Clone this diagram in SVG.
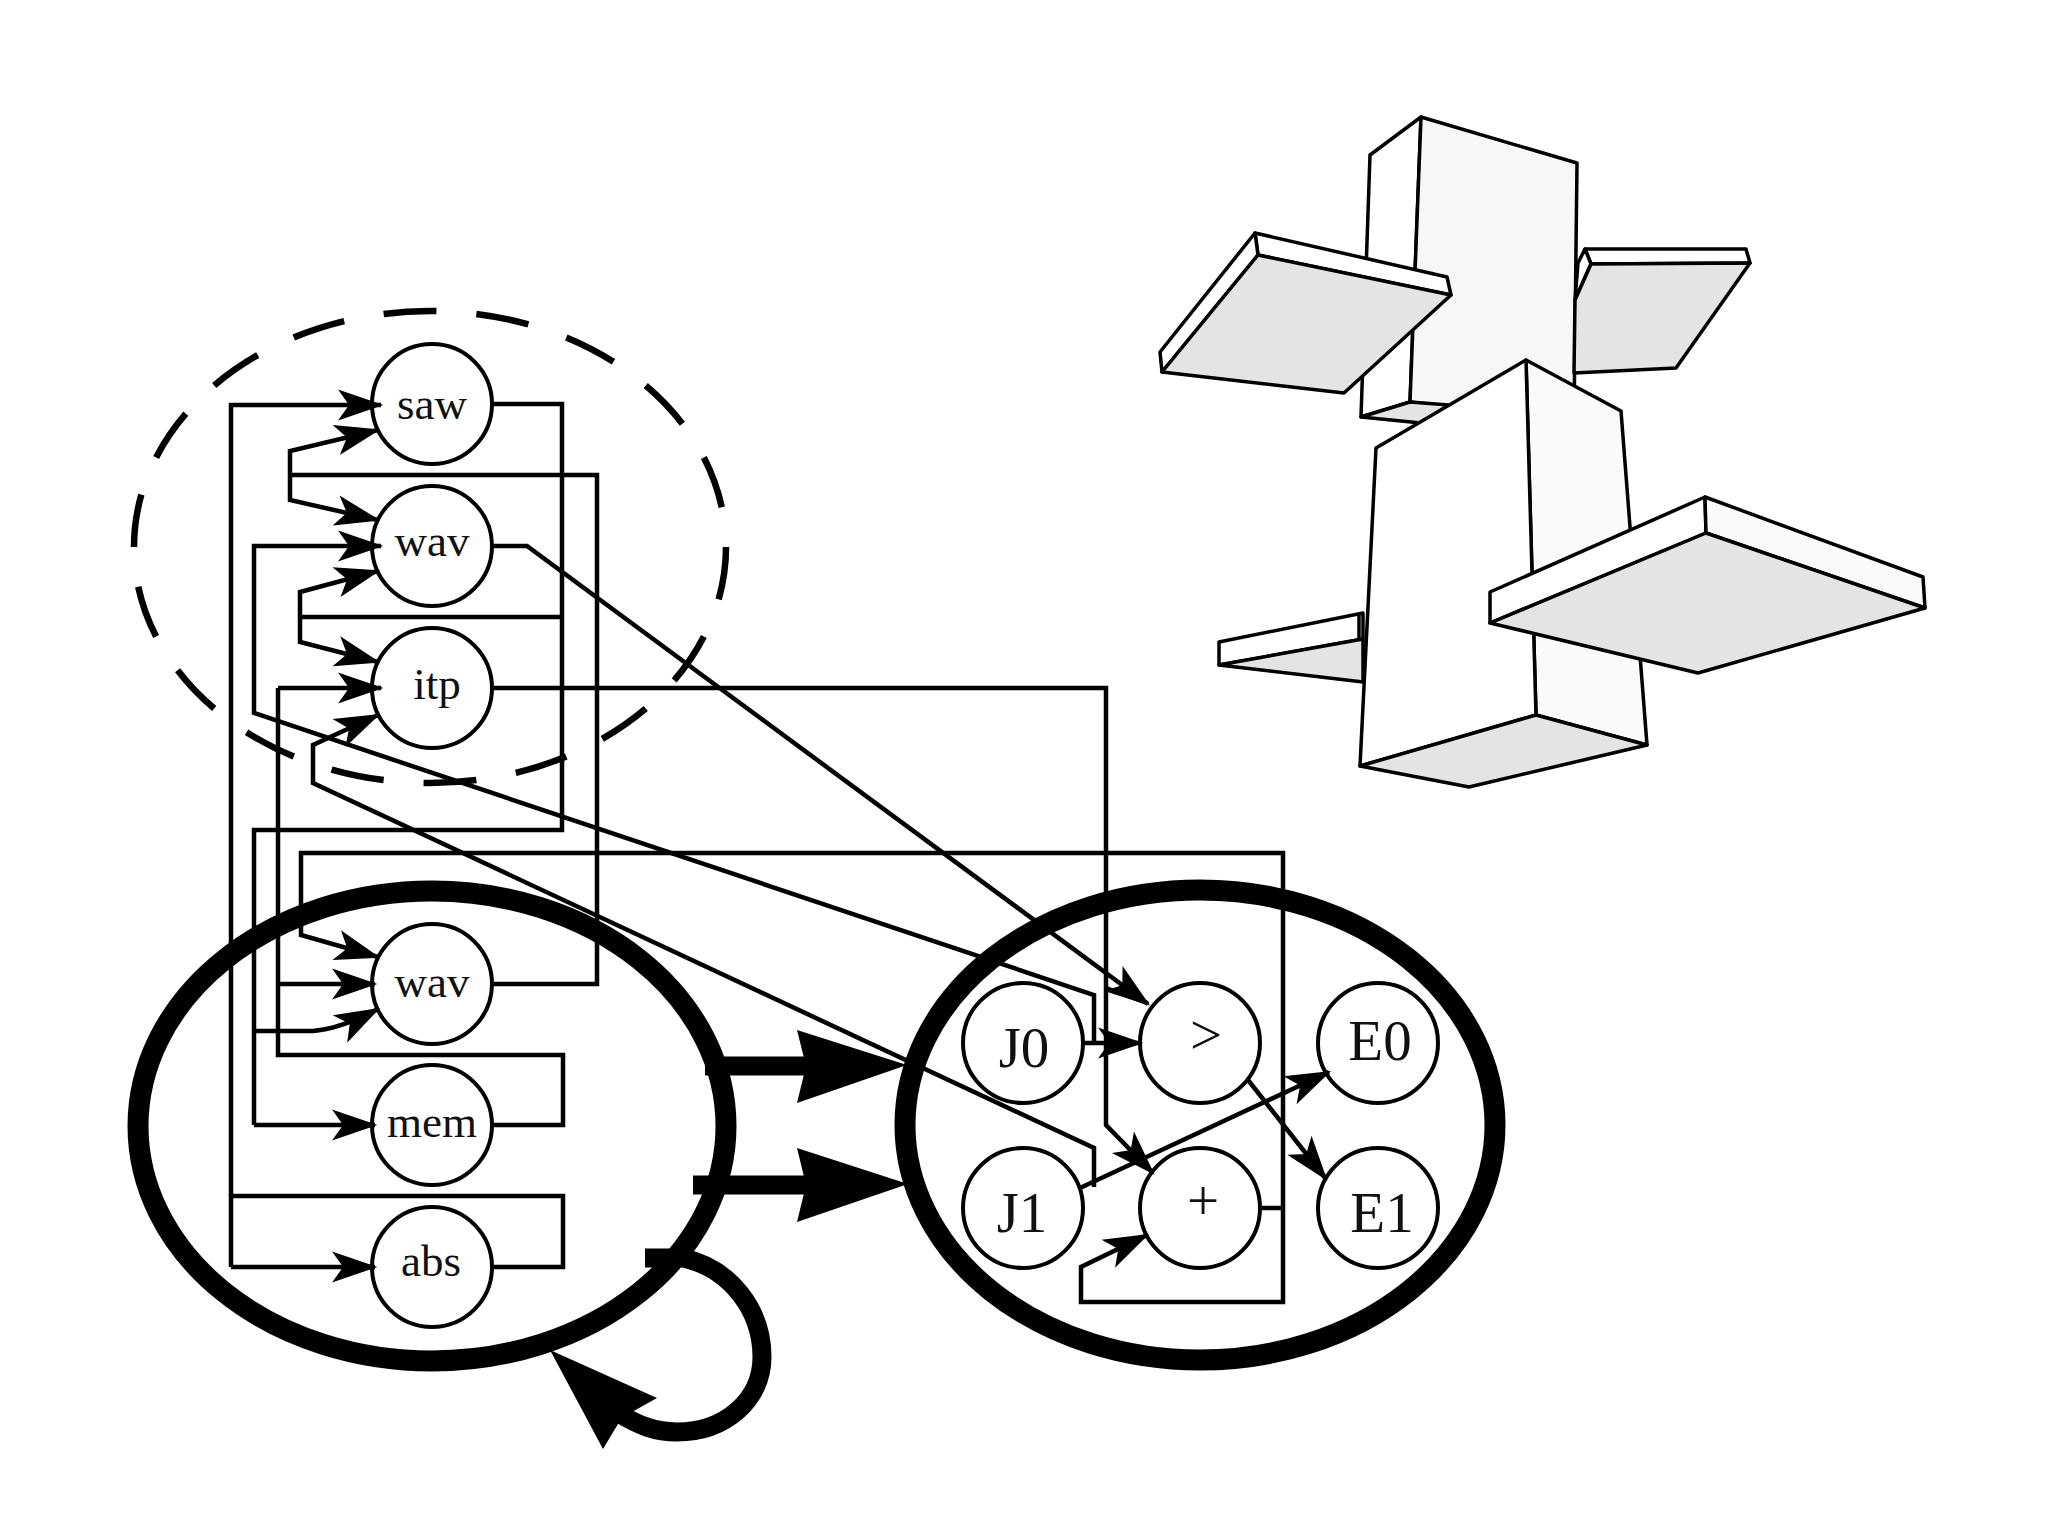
<svg xmlns="http://www.w3.org/2000/svg" width="2048" height="1535" viewBox="0 0 2048 1535">
<style>
.bg{fill:#fff}
.n{fill:#fff;stroke:#000;stroke-width:4}
.t{font-family:"Liberation Serif","Times New Roman",serif;font-size:45px;fill:#111;text-anchor:middle}
.T{font-family:"Liberation Serif","Times New Roman",serif;font-size:57px;fill:#111;text-anchor:middle}
.c{fill:none;stroke:#000;stroke-width:4.5;stroke-linejoin:miter}
.a{marker-end:url(#ah)}
.big{fill:none;stroke:#000;stroke-width:21}
.thick{fill:none;stroke:#000;stroke-width:19}
.f{stroke:#000;stroke-width:3.5;stroke-linejoin:round}
.w{fill:#fff}.l{fill:#f7f7f7}.g{fill:#e4e4e4}
</style>
<defs>
<marker id="ah" markerUnits="userSpaceOnUse" markerWidth="50" markerHeight="34" refX="44" refY="17" orient="auto" overflow="visible">
<path d="M44,17 L3,3 L13,17 L3,31 Z" fill="#000" stroke="#000" stroke-width="1.5"/>
</marker>
</defs>
<rect class="bg" width="2048" height="1535"/>

<g id="object3d">
<path class="f w" d="M1421,117 L1370,155 L1361,417 L1410,402 Z"/>
<path class="f l" d="M1421,117 L1577,163 L1574,420 L1410,402 Z"/>
<path class="f g" d="M1361,417 L1410,402 L1449,405 L1421,423 Z"/>
<path class="f w" d="M1585,249 L1746,249 L1750,263 L1591,264 Z"/>
<path class="f w" d="M1585,249 L1591,264 L1575,300 L1578,263 Z"/>
<path class="f g" d="M1591,264 L1750,263 L1676,368 L1574,373 L1575,300 Z"/>
<path class="f w" d="M1255,233 L1447,277 L1451,295 L1258,255 Z"/>
<path class="f w" d="M1255,233 L1258,255 L1162,372 L1160,352 Z"/>
<path class="f g" d="M1258,255 L1451,295 L1344,393 L1162,372 Z"/>
<path class="f w" d="M1219,642 L1363,613 L1363,639 L1219,665 Z"/>
<path class="f g" d="M1219,665 L1363,639 L1363,682 Z"/>
<path d="M1359,615 V638" class="f" fill="none"/>
<path class="f" fill="#fafafa" d="M1526,360 L1621,411 L1647,745 L1536,715 Z"/>
<path class="f w" d="M1526,360 L1376,448 L1360,766 L1536,715 Z"/>
<path class="f g" d="M1360,766 L1536,715 L1647,745 L1469,787 Z"/>
<path class="f w" d="M1705,497 L1490,592 L1490,623 L1706,533 Z"/>
<path class="f" fill="#fafafa" d="M1705,497 L1923,577 L1925,608 L1706,533 Z"/>
<path class="f g" d="M1706,533 L1925,608 L1698,673 L1490,623 Z"/>
</g>

<ellipse id="group-dashed" cx="430" cy="547" rx="296" ry="236" fill="none" stroke="#000" stroke-width="6.5" pathLength="18" stroke-dasharray="0.57 0.43"/>
<ellipse id="group-left" class="big" cx="432" cy="1126" rx="294" ry="235"/>
<ellipse id="group-right" class="big" cx="1200" cy="1125" rx="295" ry="235"/>

<g id="n-saw"><circle class="n" cx="432" cy="404" r="60"/><text class="t" x="432" y="419">saw</text></g>
<g id="n-wav1"><circle class="n" cx="432" cy="546" r="60"/><text class="t" x="432" y="556">wav</text></g>
<g id="n-itp"><circle class="n" cx="432" cy="688" r="60"/><text class="t" x="437" y="699">itp</text></g>
<g id="n-wav2"><circle class="n" cx="432" cy="984" r="60"/><text class="t" x="432" y="997">wav</text></g>
<g id="n-mem"><circle class="n" cx="432" cy="1125" r="60"/><text class="t" x="432" y="1137">mem</text></g>
<g id="n-abs"><circle class="n" cx="432" cy="1267" r="60"/><text class="t" x="431" y="1276">abs</text></g>
<g id="n-J0"><circle class="n" cx="1023" cy="1043" r="60"/><text class="T" x="1024" y="1067">J0</text></g>
<g id="n-gt"><circle class="n" cx="1200" cy="1043" r="60"/><text class="T" x="1206" y="1054">&gt;</text></g>
<g id="n-E0"><circle class="n" cx="1378" cy="1043" r="60"/><text class="T" x="1380" y="1060">E0</text></g>
<g id="n-J1"><circle class="n" cx="1023" cy="1208" r="60"/><text class="T" x="1022" y="1232">J1</text></g>
<g id="n-plus"><circle class="n" cx="1200" cy="1208" r="60"/><text class="T" x="1203" y="1220">+</text></g>
<g id="n-E1"><circle class="n" cx="1378" cy="1208" r="60"/><text class="T" x="1382" y="1232">E1</text></g>

<g id="connectors">
<path class="c" d="M492,1267 H563 V1196 H231 V1267"/>
<path class="c a" d="M231,1267 H375"/>
<path class="c a" d="M231,1196 V405 H381"/>
<path class="c" d="M492,404 H562 V830 H254 V1125"/>
<path class="c a" d="M254,1125 H375"/>
<path class="c a" d="M254,1031 H313 Q340,1029 378,1009"/>
<path class="c" d="M562,617 H300"/>
<path class="c a" d="M300,617 V592 L378,571"/>
<path class="c a" d="M300,617 V642 L378,662"/>
<path class="c" d="M492,984 H597 V475 H290"/>
<path class="c a" d="M290,475 V451 L378,430"/>
<path class="c a" d="M290,475 V500 L378,520"/>
<path class="c a" d="M1094,1043 V995 L254,713 V546 H381"/>
<path class="c a" d="M1083,1043 H1141"/>
<path class="c a" d="M1094,1187 V1148 L313,783 V745 L378,715"/>
<path class="c a" d="M1080,1188 L1329,1072"/>
<path class="c" d="M492,1125 H563 V1055 H278 V688"/>
<path class="c a" d="M278,688 H381"/>
<path class="c a" d="M278,984 H375"/>
<path class="c a" d="M492,688 H1106 V1125 L1153,1173"/>
<path class="c" d="M1106,988 L1147,1003"/>
<path class="c a" d="M492,546 H527 L1148,1004"/>
<path class="c a" d="M1248,1080 L1326,1179"/>
<path class="c" d="M1260,1208 H1283"/>
<path class="c a" d="M1283,1208 V853 H301 V935 L378,957"/>
<path class="c a" d="M1283,1208 V1302 H1081 V1267 L1147,1235"/>
<path class="thick" d="M705,1066 H820"/>
<path d="M907,1065 L797,1030 L806,1066 L797,1103 Z" fill="#000"/>
<path class="thick" d="M693,1185 H820"/>
<path d="M908,1184 L797,1148 L806,1185 L797,1222 Z" fill="#000"/>
<path class="thick" d="M645,1258 H683 C730,1268 762,1310 762,1357 C762,1400 725,1432 677,1432 C655,1432 638,1425 620,1414"/>
<path d="M550,1350 L657,1398 L632,1412 L618,1424 L603,1449 Z" fill="#000"/>
</g>
</svg>
